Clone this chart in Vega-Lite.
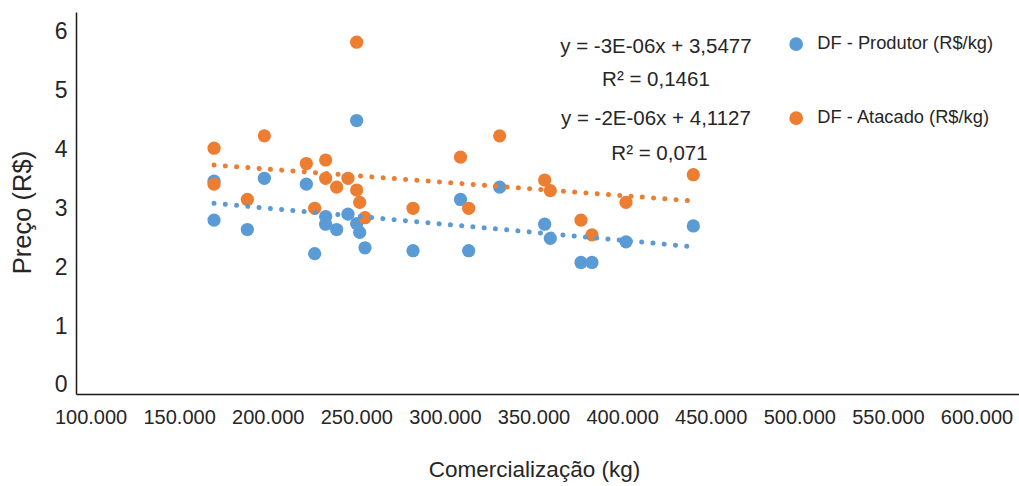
{
  "$schema": "https://vega.github.io/schema/vega-lite/v6.json",
  "width": 943,
  "height": 382,
  "autosize": "none",
  "padding": {"left": 76, "top": 12, "right": 0, "bottom": 92},
  "config": {
    "view": {"stroke": null},
    "font": "Liberation Sans",
    "locale": {"number": {"decimal": ",", "thousands": ".", "grouping": [3], "currency": ["R$", ""]}}
  },
  "data": {
    "values": [
      {"kg": 169700, "serie": "DF - Produtor (R$/kg)", "preco": 3.46},
      {"kg": 169700, "serie": "DF - Produtor (R$/kg)", "preco": 2.80},
      {"kg": 188500, "serie": "DF - Produtor (R$/kg)", "preco": 2.64},
      {"kg": 198100, "serie": "DF - Produtor (R$/kg)", "preco": 3.51},
      {"kg": 221800, "serie": "DF - Produtor (R$/kg)", "preco": 3.41},
      {"kg": 226500, "serie": "DF - Produtor (R$/kg)", "preco": 2.23},
      {"kg": 232700, "serie": "DF - Produtor (R$/kg)", "preco": 2.86},
      {"kg": 232700, "serie": "DF - Produtor (R$/kg)", "preco": 2.73},
      {"kg": 238900, "serie": "DF - Produtor (R$/kg)", "preco": 2.64},
      {"kg": 245300, "serie": "DF - Produtor (R$/kg)", "preco": 2.90},
      {"kg": 250200, "serie": "DF - Produtor (R$/kg)", "preco": 4.49},
      {"kg": 250200, "serie": "DF - Produtor (R$/kg)", "preco": 2.74},
      {"kg": 251900, "serie": "DF - Produtor (R$/kg)", "preco": 2.59},
      {"kg": 254900, "serie": "DF - Produtor (R$/kg)", "preco": 2.33},
      {"kg": 282000, "serie": "DF - Produtor (R$/kg)", "preco": 2.28},
      {"kg": 308800, "serie": "DF - Produtor (R$/kg)", "preco": 3.15},
      {"kg": 313400, "serie": "DF - Produtor (R$/kg)", "preco": 2.28},
      {"kg": 330900, "serie": "DF - Produtor (R$/kg)", "preco": 3.36},
      {"kg": 356300, "serie": "DF - Produtor (R$/kg)", "preco": 2.73},
      {"kg": 359500, "serie": "DF - Produtor (R$/kg)", "preco": 2.49},
      {"kg": 376800, "serie": "DF - Produtor (R$/kg)", "preco": 2.08},
      {"kg": 383000, "serie": "DF - Produtor (R$/kg)", "preco": 2.08},
      {"kg": 402200, "serie": "DF - Produtor (R$/kg)", "preco": 2.43},
      {"kg": 440200, "serie": "DF - Produtor (R$/kg)", "preco": 2.70},
      {"kg": 169700, "serie": "DF - Atacado (R$/kg)", "preco": 4.02},
      {"kg": 169700, "serie": "DF - Atacado (R$/kg)", "preco": 3.41},
      {"kg": 188500, "serie": "DF - Atacado (R$/kg)", "preco": 3.15},
      {"kg": 198100, "serie": "DF - Atacado (R$/kg)", "preco": 4.23},
      {"kg": 221800, "serie": "DF - Atacado (R$/kg)", "preco": 3.76},
      {"kg": 226500, "serie": "DF - Atacado (R$/kg)", "preco": 3.00},
      {"kg": 232700, "serie": "DF - Atacado (R$/kg)", "preco": 3.82},
      {"kg": 232700, "serie": "DF - Atacado (R$/kg)", "preco": 3.51},
      {"kg": 238900, "serie": "DF - Atacado (R$/kg)", "preco": 3.36},
      {"kg": 245300, "serie": "DF - Atacado (R$/kg)", "preco": 3.51},
      {"kg": 250200, "serie": "DF - Atacado (R$/kg)", "preco": 5.82},
      {"kg": 250200, "serie": "DF - Atacado (R$/kg)", "preco": 3.31},
      {"kg": 251900, "serie": "DF - Atacado (R$/kg)", "preco": 3.10},
      {"kg": 254900, "serie": "DF - Atacado (R$/kg)", "preco": 2.84},
      {"kg": 282000, "serie": "DF - Atacado (R$/kg)", "preco": 3.00},
      {"kg": 308800, "serie": "DF - Atacado (R$/kg)", "preco": 3.87},
      {"kg": 313400, "serie": "DF - Atacado (R$/kg)", "preco": 3.00},
      {"kg": 330900, "serie": "DF - Atacado (R$/kg)", "preco": 4.23},
      {"kg": 356300, "serie": "DF - Atacado (R$/kg)", "preco": 3.48},
      {"kg": 359500, "serie": "DF - Atacado (R$/kg)", "preco": 3.30},
      {"kg": 376800, "serie": "DF - Atacado (R$/kg)", "preco": 2.80},
      {"kg": 383000, "serie": "DF - Atacado (R$/kg)", "preco": 2.55},
      {"kg": 402200, "serie": "DF - Atacado (R$/kg)", "preco": 3.10},
      {"kg": 440200, "serie": "DF - Atacado (R$/kg)", "preco": 3.57}
    ]
  },
  "layer": [
    {
      "mark": {"type": "point", "filled": true, "opacity": 1, "size": 175},
      "encoding": {
        "x": {
          "field": "kg", "type": "quantitative",
          "scale": {"domain": [91800, 624000], "nice": false, "zero": false},
          "axis": {
            "values": [100000, 150000, 200000, 250000, 300000, 350000, 400000, 450000, 500000, 550000, 600000],
            "format": ",d",
            "grid": false, "ticks": false,
            "domainColor": "#1a1a1a", "domainWidth": 1.5,
            "labelFontSize": 20, "labelColor": "#262626", "labelPadding": 13,
            "labelFlush": false, "labelOverlap": false,
            "title": "Comercialização (kg)",
            "titleFontSize": 22.5, "titleFontWeight": "normal", "titleColor": "#262626",
            "titleX": 458, "titleY": 82, "titleAlign": "center", "titleBaseline": "alphabetic"
          }
        },
        "y": {
          "field": "preco", "type": "quantitative",
          "scale": {"domain": [-0.153, 6.333], "nice": false, "zero": false},
          "axis": {
            "values": [0, 1, 2, 3, 4, 5, 6],
            "format": "d",
            "grid": false, "ticks": false,
            "domainColor": "#1a1a1a", "domainWidth": 1.5,
            "labelFontSize": 23, "labelColor": "#262626", "labelPadding": 9,
            "labelFlush": false, "labelOverlap": false,
            "title": "Preço (R$)",
            "titleFontSize": 25.5, "titleFontWeight": "normal", "titleColor": "#262626",
            "titleX": -41, "titleY": 200, "titleAlign": "center", "titleAngle": 270, "titleBaseline": "bottom"
          }
        },
        "color": {
          "field": "serie", "type": "nominal",
          "scale": {"domain": ["DF - Produtor (R$/kg)", "DF - Atacado (R$/kg)"], "range": ["#5B9BD5", "#ED7D31"]},
          "legend": {
            "orient": "none", "legendX": 711, "legendY": 23, "title": null,
            "symbolType": "circle", "symbolSize": 150, "labelFontSize": 18.3, "labelColor": "#262626",
            "labelOffset": 12, "rowPadding": 54, "padding": 0, "labelLimit": 400
          }
        }
      }
    },
    {
      "transform": [{"regression": "preco", "on": "kg", "groupby": ["serie"]}],
      "mark": {"type": "line", "strokeDash": [0.1, 11.2], "strokeCap": "round", "strokeWidth": 5},
      "encoding": {
        "x": {"field": "kg", "type": "quantitative"},
        "y": {"field": "preco", "type": "quantitative"},
        "color": {"field": "serie", "type": "nominal"}
      }
    },
    {
      "data": {"values": [{"t": "y = -3E-06x + 3,5477"}]},
      "mark": {"type": "text", "fontSize": 20.5, "align": "center", "baseline": "alphabetic", "color": "#262626"},
      "encoding": {"x": {"datum": 419100}, "y": {"datum": 5.632}, "text": {"field": "t"}}
    },
    {
      "data": {"values": [{"t": "R² = 0,1461"}]},
      "mark": {"type": "text", "fontSize": 20.5, "align": "center", "baseline": "alphabetic", "color": "#262626"},
      "encoding": {"x": {"datum": 419100}, "y": {"datum": 5.082}, "text": {"field": "t"}}
    },
    {
      "data": {"values": [{"t": "y = -2E-06x + 4,1127"}]},
      "mark": {"type": "text", "fontSize": 20.5, "align": "center", "baseline": "alphabetic", "color": "#262626"},
      "encoding": {"x": {"datum": 419100}, "y": {"datum": 4.414}, "text": {"field": "t"}}
    },
    {
      "data": {"values": [{"t": "R² = 0,071"}]},
      "mark": {"type": "text", "fontSize": 20.5, "align": "center", "baseline": "alphabetic", "color": "#262626"},
      "encoding": {"x": {"datum": 421100}, "y": {"datum": 3.82}, "text": {"field": "t"}}
    }
  ]
}
